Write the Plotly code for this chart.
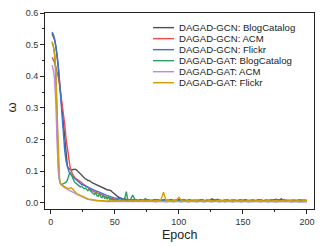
import plotly.graph_objects as go

# epochs 1..60 every epoch, then every second epoch up to 200
epochs = list(range(1, 61)) + list(range(62, 201, 2))

gcn_blog = [
  .535, .527, .515, .495, .465, .425, .375, .33, .29, .245,
  .19, .14, .115, .108, .105, .103, .104, .106, .106, .104,
  .1, .095, .09, .085, .082, .078, .075, .074, .07, .07,
  .066, .064, .062, .06, .058, .057, .053, .052, .05, .048,
  .046, .044, .043, .041, .04, .039, .038, .034, .03, .027,
  .023, .02, .017, .016, .013, .012, .011, .012, .009, .01,
  .009, .008, .01, .007, .009, .008, .006, .009, .007, .008,
  .01, .007, .006, .009, .008, .007, .009, .006, .008, .01,
  .007, .008, .006, .009, .007, .008, .006, .007, .009, .006,
  .008, .007, .012, .006, .011, .007, .006, .008, .007, .006,
  .009, .007, .006, .008, .007, .009, .006, .007, .008, .006,
  .007, .009, .006, .008, .007, .006, .009, .011, .007, .012,
  .006, .008, .007, .006, .008, .007, .006, .008, .007, .006]

gcn_acm = [
  .46, .452, .443, .43, .415, .395, .37, .34, .31, .28,
  .245, .2, .165, .135, .115, .1, .09, .083, .078, .074,
  .072, .07, .068, .064, .06, .057, .055, .053, .05, .046,
  .042, .038, .036, .035, .034, .032, .03, .028, .026, .025,
  .022, .02, .018, .016, .015, .014, .013, .012, .011, .01,
  .009, .009, .008, .008, .007, .008, .007, .007, .006, .007,
  .007, .006, .008, .005, .007, .006, .005, .007, .006, .005,
  .007, .006, .005, .008, .006, .005, .007, .005, .006, .007,
  .005, .006, .007, .005, .006, .005, .007, .006, .005, .006,
  .007, .005, .006, .005, .007, .006, .005, .006, .007, .005,
  .006, .005, .007, .006, .005, .006, .005, .007, .006, .005,
  .006, .007, .005, .006, .005, .007, .006, .005, .006, .007,
  .005, .006, .005, .007, .006, .005, .006, .005, .007, .006]

gcn_flickr = [
  .54, .532, .518, .495, .465, .425, .37, .31, .25, .2,
  .16, .13, .112, .1, .092, .087, .083, .08, .076, .072,
  .068, .064, .06, .058, .056, .054, .052, .05, .048, .046,
  .045, .043, .041, .04, .038, .036, .035, .033, .031, .03,
  .028, .026, .025, .023, .021, .02, .018, .017, .016, .015,
  .014, .013, .012, .011, .01, .01, .009, .009, .008, .008,
  .008, .007, .009, .006, .008, .007, .009, .006, .007, .008,
  .006, .009, .007, .008, .006, .007, .009, .007, .008, .006,
  .007, .009, .006, .008, .007, .006, .008, .007, .009, .006,
  .007, .008, .006, .009, .007, .008, .006, .007, .009, .006,
  .008, .007, .006, .009, .007, .008, .006, .007, .008, .006,
  .009, .007, .006, .008, .007, .009, .006, .007, .008, .006,
  .009, .007, .006, .008, .007, .006, .009, .007, .008, .007]

gat_blog = [
  .505, .495, .47, .4, .25, .11, .065, .058, .058, .06,
  .062, .065, .072, .085, .097, .09, .078, .07, .064, .06,
  .056, .054, .05, .052, .047, .044, .046, .041, .038, .043,
  .036, .033, .03, .026, .032, .022, .02, .029, .018, .016,
  .024, .013, .018, .011, .02, .009, .014, .008, .011, .007,
  .009, .006, .008, .005, .007, .005, .01, .018, .035, .01,
  .008, .024, .007, .005, .006, .008, .013, .006, .004, .005,
  .003, .006, .004, .005, .003, .004, .006, .003, .005, .004,
  .003, .005, .004, .003, .006, .004, .003, .005, .004, .003,
  .005, .004, .003, .006, .004, .003, .005, .003, .004, .005,
  .003, .004, .006, .003, .004, .005, .003, .004, .003, .005,
  .004, .003, .006, .004, .003, .005, .004, .003, .005, .004,
  .003, .004, .005, .003, .004, .005, .003, .004, .005, .004]

gat_acm = [
  .435, .42, .39, .31, .18, .095, .066, .058, .054, .05,
  .046, .044, .042, .04, .038, .038, .036, .032, .029, .027,
  .025, .023, .021, .018, .016, .014, .013, .012, .011, .01,
  .009, .008, .008, .007, .007, .006, .006, .005, .006, .005,
  .005, .004, .005, .004, .003, .004, .004, .003, .004, .003,
  .004, .003, .004, .003, .004, .003, .003, .004, .003, .004,
  .004, .003, .004, .002, .003, .004, .003, .002, .004, .003,
  .002, .003, .004, .002, .003, .004, .002, .003, .003, .002,
  .004, .003, .002, .003, .004, .002, .003, .002, .004, .003,
  .002, .003, .004, .002, .003, .002, .004, .003, .002, .003,
  .004, .002, .003, .002, .003, .004, .002, .003, .002, .004,
  .003, .002, .003, .004, .002, .003, .002, .003, .004, .002,
  .003, .002, .004, .003, .002, .003, .004, .002, .003, .003]

gat_flickr = [
  .51, .495, .47, .41, .28, .13, .065, .057, .055, .053,
  .051, .048, .045, .044, .046, .047, .043, .038, .034, .03,
  .027, .025, .022, .02, .018, .016, .015, .013, .012, .011,
  .01, .009, .009, .008, .008, .007, .007, .006, .007, .006,
  .006, .005, .006, .005, .006, .007, .005, .006, .005, .006,
  .005, .006, .007, .005, .006, .005, .006, .005, .006, .005,
  .006, .005, .007, .005, .006, .008, .005, .007, .006, .005,
  .008, .006, .009, .033, .006, .008, .005, .007, .006, .017,
  .007, .005, .006, .008, .005, .007, .006, .005, .007, .006,
  .005, .008, .006, .005, .007, .006, .005, .006, .008, .005,
  .009, .006, .005, .007, .006, .005, .008, .006, .005, .007,
  .006, .008, .005, .006, .007, .005, .006, .008, .005, .007,
  .006, .005, .008, .006, .005, .007, .006, .005, .007, .006]

names = ["DAGAD-GCN: BlogCatalog", "DAGAD-GCN: ACM", "DAGAD-GCN: Flickr",
         "DAGAD-GAT: BlogCatalog", "DAGAD-GAT: ACM", "DAGAD-GAT: Flickr"]
series = [gcn_blog, gcn_acm, gcn_flickr, gat_blog, gat_acm, gat_flickr]
colors = ["#505050", "#f44a4a", "#3a74d6", "#2e9e62", "#b98ae8", "#d4a000"]

W, H = 332, 247
M = dict(l=45, r=18, t=8, b=38)


def px_x(p):
  return (p - M["l"]) / (W - M["l"] - M["r"])


def px_y(p):
  return (H - M["b"] - p) / (H - M["t"] - M["b"])


def build():
  fig = go.Figure()
  for name, vals, col in zip(names, series, colors):
    fig.add_trace(go.Scatter(x=epochs, y=vals, mode="lines", name=name,
                             line=dict(color=col, width=1.4)))

  # compact legend drawn by hand (plotly's legend rows are too tall here)
  for i, (name, col) in enumerate(zip(names, colors)):
    yc = px_y(23 + i * 11.3)
    fig.add_shape(type="line", xref="paper", yref="paper",
                  x0=px_x(153), x1=px_x(174), y0=yc, y1=yc,
                  line=dict(color=col, width=1.4))
    fig.add_annotation(text=name, xref="paper", yref="paper", x=px_x(176.5), y=yc,
                       xanchor="left", yanchor="middle", showarrow=False,
                       font=dict(size=9.6, color="#222"))

  # axis titles as annotations so their position can be matched exactly
  fig.add_annotation(text="Epoch", xref="paper", yref="paper", x=px_x(179), y=px_y(236),
                     xanchor="center", yanchor="middle", showarrow=False,
                     font=dict(size=12.5, color="#222"))
  fig.add_annotation(text="ω", xref="paper", yref="paper", x=px_x(12), y=px_y(105),
                     xanchor="center", yanchor="middle", showarrow=False, textangle=-90,
                     font=dict(size=13, color="#222"))

  axis = dict(showline=True, linecolor="#222", linewidth=1, mirror=True,
              ticks="outside", ticklen=4, tickwidth=1, tickcolor="#222",
              showgrid=False, zeroline=False,
              tickfont=dict(size=9, color="#333"))
  fig.update_xaxes(**axis, range=[-4.5, 205.5], tickvals=[0, 50, 100, 150, 200],
                   minor=dict(ticks="outside", ticklen=2, tickcolor="#222", dtick=25, tick0=0))
  fig.update_yaxes(**axis, range=[-0.02, 0.6], tickvals=[0, .1, .2, .3, .4, .5, .6],
                   tickformat=".1f",
                   minor=dict(ticks="outside", ticklen=2, tickcolor="#222", dtick=0.05, tick0=0))
  fig.update_layout(width=W, height=H, margin=M, showlegend=False,
                    paper_bgcolor="white", plot_bgcolor="white",
                    font=dict(family="Liberation Sans, Arial, sans-serif"))
  return fig


if __name__ == "__main__":
  fig = build()
  # page body has a default margin; drop it so the figure sits at the top-left corner
  fig.write_html("out.html", config={"displayModeBar": False},
                 post_script="document.body.style.margin='0';")
